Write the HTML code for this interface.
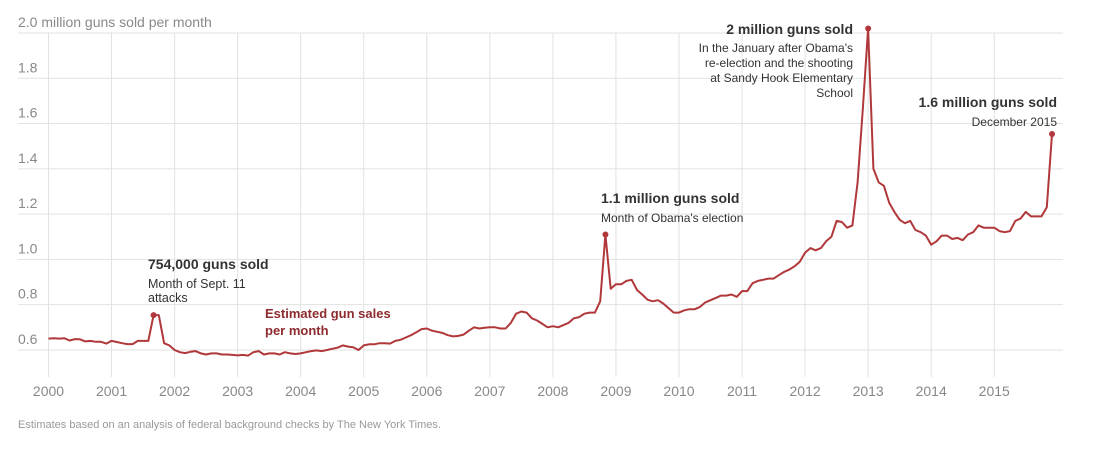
<!DOCTYPE html>
<html><head><meta charset="utf-8"><style>
html,body{margin:0;padding:0;background:#fff;}
svg{display:block;font-family:"Liberation Sans",sans-serif;}
</style></head><body>
<svg id="chart" width="1094" height="451" viewBox="0 0 1094 451">
<g id="grid"></g>
<g id="labels"></g>
<g id="series"></g>
<g font-size="13" fill="#333">
  <text x="148" y="269" font-weight="bold" font-size="14">754,000 guns sold</text>
  <text x="148" y="288" font-size="12.5">Month of Sept. 11</text>
  <text x="148" y="302" font-size="12.5">attacks</text>
  <text x="265" y="318" font-weight="bold" font-size="13" fill="#8d2b2e">Estimated gun sales</text>
  <text x="265" y="335" font-weight="bold" font-size="13" fill="#8d2b2e">per month</text>
  <text x="601" y="203" font-weight="bold" font-size="14">1.1 million guns sold</text>
  <text x="601" y="222" font-size="12">Month of Obama's election</text>
  <g text-anchor="end">
    <text x="853" y="34" font-weight="bold" font-size="14">2 million guns sold</text>
    <text x="853" y="52" font-size="12">In the January after Obama's</text>
    <text x="853" y="67" font-size="12">re-election and the shooting</text>
    <text x="853" y="82" font-size="12">at Sandy Hook Elementary</text>
    <text x="853" y="97" font-size="12">School</text>
    <text x="1057" y="107" font-weight="bold" font-size="14">1.6 million guns sold</text>
    <text x="1057" y="126" font-size="12">December 2015</text>
  </g>
</g>
<text x="18" y="428" font-size="11" fill="#999">Estimates based on an analysis of federal background checks by The New York Times.</text>
</svg>
<script>
const years = [2000,2001,2002,2003,2004,2005,2006,2007,2008,2009,2010,2011,2012,2013,2014,2015];
const yTicks = [0.6,0.8,1.0,1.2,1.4,1.6,1.8,2.0];
const yTickLabels = ["0.6","0.8","1.0","1.2","1.4","1.6","1.8","2.0 million guns sold per month"];
const sales = [
0.65,0.652,0.65,0.652,0.642,0.648,0.647,0.638,0.64,0.636,0.636,0.628,
0.64,0.635,0.63,0.626,0.626,0.64,0.64,0.64,0.754,0.754,0.63,0.62,
0.60,0.59,0.586,0.592,0.595,0.585,0.58,0.585,0.585,0.58,0.58,0.578,
0.576,0.578,0.575,0.59,0.595,0.58,0.585,0.585,0.58,0.59,0.585,0.582,
0.585,0.59,0.595,0.598,0.595,0.6,0.605,0.61,0.62,0.615,0.612,0.6,
0.62,0.625,0.625,0.63,0.63,0.628,0.64,0.645,0.655,0.665,0.678,0.692,
0.695,0.685,0.68,0.675,0.665,0.66,0.662,0.668,0.685,0.70,0.695,0.698,
0.70,0.70,0.695,0.695,0.72,0.76,0.77,0.765,0.74,0.73,0.715,0.70,
0.705,0.70,0.71,0.72,0.74,0.745,0.76,0.765,0.765,0.815,1.11,0.87,
0.89,0.89,0.905,0.91,0.865,0.845,0.822,0.815,0.82,0.805,0.785,0.765,
0.765,0.775,0.78,0.78,0.79,0.81,0.82,0.83,0.84,0.84,0.845,0.835,
0.86,0.86,0.895,0.905,0.91,0.915,0.915,0.93,0.945,0.955,0.97,0.99,
1.03,1.05,1.04,1.05,1.08,1.10,1.17,1.165,1.14,1.15,1.34,1.67,
2.02,1.40,1.34,1.325,1.25,1.21,1.175,1.16,1.17,1.13,1.12,1.105,
1.065,1.08,1.105,1.105,1.09,1.095,1.085,1.11,1.12,1.15,1.14,1.14,
1.14,1.125,1.12,1.125,1.17,1.18,1.21,1.19,1.19,1.19,1.23,1.554];
const highlights = [20,106,156,191];

const NS="http://www.w3.org/2000/svg";
const x0=48.5, perYear=63.05;
function xScale(i){return x0+i*perYear/12;}
function yScale(v){return 33+(2.0-v)*226.4;}
function mk(tag,attrs,parent){const e=document.createElementNS(NS,tag);for(const k in attrs)e.setAttribute(k,attrs[k]);parent.appendChild(e);return e;}
const grid=document.getElementById('grid'), labels=document.getElementById('labels'), series=document.getElementById('series');
yTicks.forEach((t,i)=>{
  const y=yScale(t);
  const l=mk('line',{x1:18,x2:1063,y1:y,y2:y,stroke:'#e2e2e2','stroke-width':1},grid);
  
  
  const tx=mk('text',{x:18,y:y-6,'font-size':14,fill:'#888'},labels);
  
  
  tx.textContent=yTickLabels[i];
});
years.forEach((yr,i)=>{
  const x=xScale(i*12);
  const l=mk('line',{x1:x,x2:x,y1:33,y2:377,stroke:'#e2e2e2','stroke-width':1},grid);
  
  
  const tx=mk('text',{x:x,y:396,'font-size':14,fill:'#888','text-anchor':'middle'},labels);
  
  
  tx.textContent=yr;
});
const pts=sales.map((v,i)=>xScale(i).toFixed(1)+','+yScale(v).toFixed(1)).join(' ');
const pl=mk('polyline',{points:pts,fill:'none',stroke:'#b0383b','stroke-width':2,'stroke-linejoin':'round'},series);


highlights.forEach(i=>{
  const c=mk('circle',{cx:xScale(i),cy:yScale(sales[i]),r:3,fill:'#b0383b'},series);
  
  
});
</script>
</body></html>
